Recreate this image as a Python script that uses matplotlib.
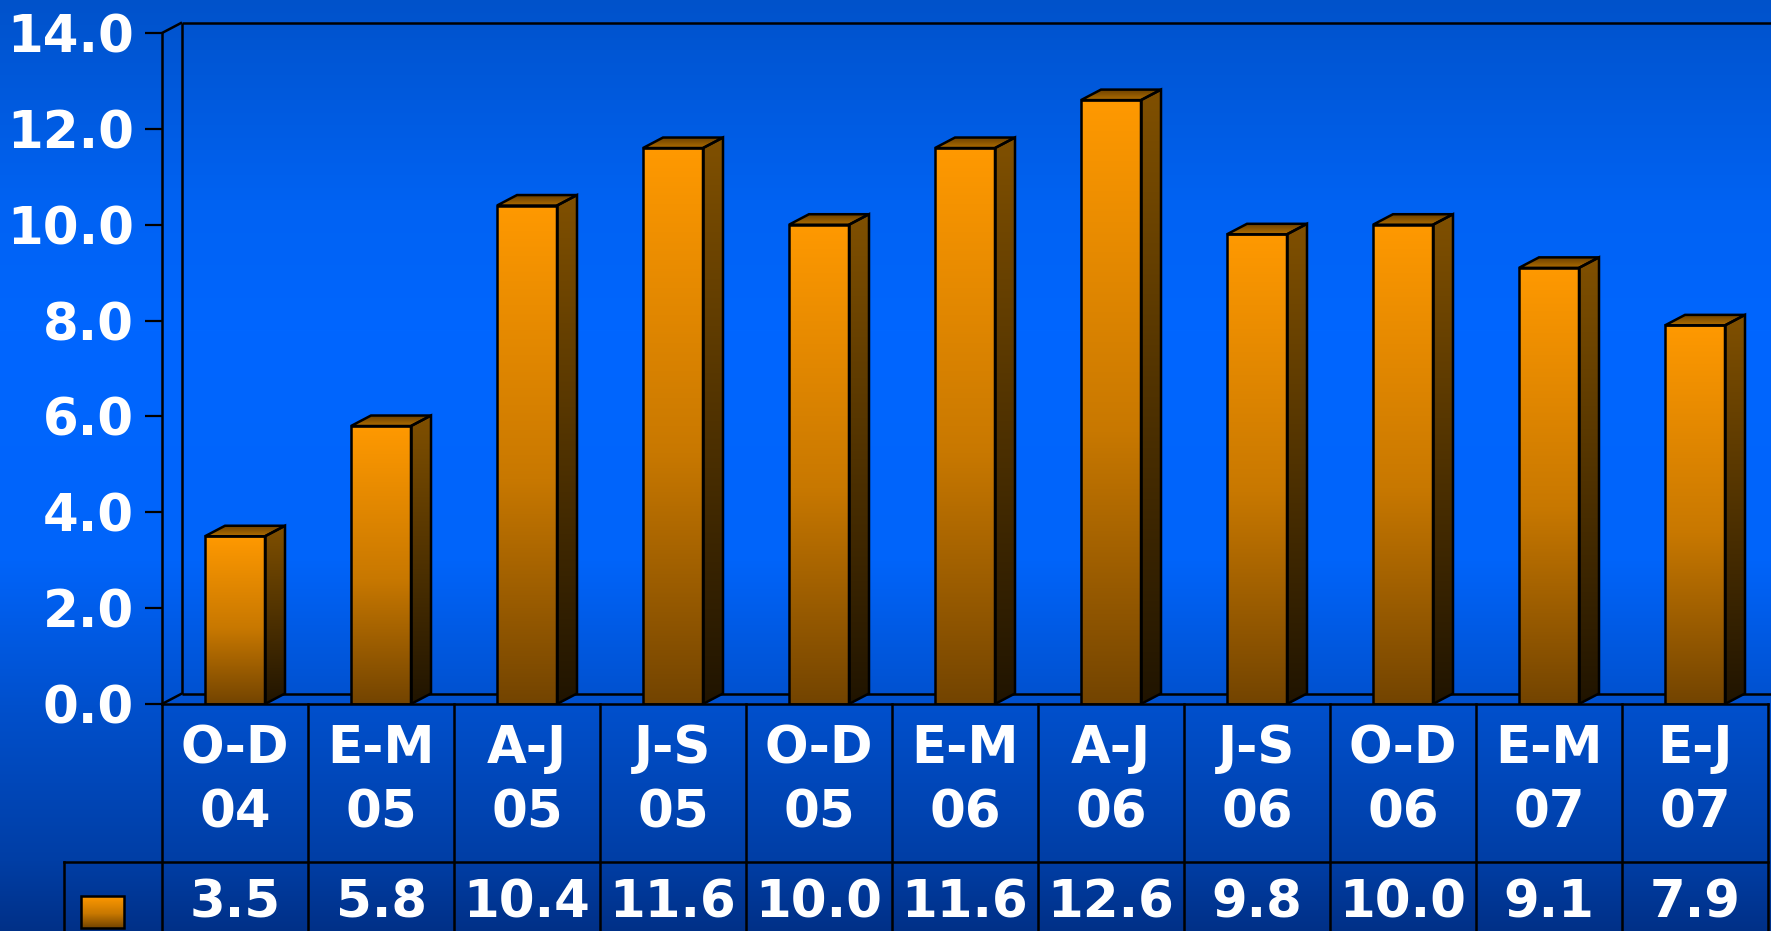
import numpy as np
import matplotlib
matplotlib.use("Agg")
import matplotlib.pyplot as plt
from matplotlib.patches import Polygon, Rectangle
from matplotlib.colors import LinearSegmentedColormap

# ---------------- data ----------------
categories = ["O-D\n04", "E-M\n05", "A-J\n05", "J-S\n05", "O-D\n05", "E-M\n06",
              "A-J\n06", "J-S\n06", "O-D\n06", "E-M\n07", "E-J\n07"]
values = [3.5, 5.8, 10.4, 11.6, 10.0, 11.6, 12.6, 9.8, 10.0, 9.1, 7.9]
y_ticks = [0, 2, 4, 6, 8, 10, 12, 14]
y_max = 14.0

# ---------------- layout (pixels) ----------------
W, H = 1771, 931
AX_L, AX_R, AX_T, AX_B = 162, 1768, 33, 704
ROW_DIV = 862
KEY_LEFT = 64
DEPTH_X, DEPTH_Y = 20, 10.5
BAR_W_PX = 60

FONT = "DejaVu Sans"
FS = 37
LW = 1.8

fig = plt.figure(figsize=(W / 100, H / 100), dpi=100)


def c(r, g, b):
    return (r / 255, g / 255, b / 255)


# background gradient
bg = fig.add_axes([0, 0, 1, 1], zorder=-10)
ypx = np.arange(H)
stop_y = [0, 200, 330, 560, 704, 860, 931]
stop_c = [(0, 82, 202), (0, 98, 242), (0, 102, 255), (0, 100, 250),
          (0, 80, 205), (0, 62, 165), (0, 48, 135)]
arr = np.zeros((H, 1, 3))
for k in range(3):
    arr[:, 0, k] = np.interp(ypx, stop_y, [s[k] for s in stop_c]) / 255
bg.imshow(arr, aspect="auto", extent=[0, 1, 0, 1], origin="upper")
bg.set_axis_off()

n = len(values)
ux = (AX_R - AX_L) / n
uy = (AX_B - AX_T) / y_max
DX = DEPTH_X / ux
DY = DEPTH_Y / uy
BW = BAR_W_PX / ux

ax = fig.add_axes([AX_L / W, (H - AX_B) / H, (AX_R - AX_L) / W, (AX_B - AX_T) / H])
ax.patch.set_alpha(0)
xlim = (-0.5, n - 0.5)
ylim = (0, y_max)

for s in ["top", "right", "bottom"]:
    ax.spines[s].set_visible(False)
ax.spines["left"].set_color("black")
ax.spines["left"].set_linewidth(LW)
ax.set_xticks([])
ax.set_yticks(y_ticks)
ax.set_yticklabels([f"{t:.1f}" for t in y_ticks])
ax.tick_params(axis="y", direction="out", length=12, width=1.6, color="black",
               labelcolor="white", labelsize=FS, pad=8)
for lab in ax.get_yticklabels():
    lab.set_fontfamily(FONT)
    lab.set_fontweight("bold")

# walls / floor outline
kw = dict(color="black", lw=LW, clip_on=False, solid_capstyle="butt", zorder=3)
x0w = xlim[0]
ax.plot([x0w, x0w + DX], [y_max, y_max + DY], **kw)
ax.plot([x0w + DX, x0w + DX], [DY, y_max + DY], **kw)
ax.plot([x0w + DX, xlim[1] + 1], [y_max + DY, y_max + DY], **kw)
ax.plot([x0w, x0w + DX], [0, DY], **kw)
ax.plot([x0w + DX, xlim[1] + 1], [DY, DY], **kw)

front_cmap = LinearSegmentedColormap.from_list(
    "front", [(0, c(115, 68, 0)), (0.45, c(200, 120, 0)), (1, c(255, 153, 0))])
side_cmap = LinearSegmentedColormap.from_list(
    "side", [(0, c(32, 20, 0)), (1, c(128, 80, 0))])
top_cmap = LinearSegmentedColormap.from_list(
    "top", [(0, c(175, 108, 0)), (1, c(105, 64, 0))])
grad = np.linspace(0, 1, 256).reshape(-1, 1)


def grad_fill(patch, cmap, extent, z):
    patch.set_facecolor("none")
    patch.set_edgecolor("none")
    ax.add_patch(patch)
    im = ax.imshow(grad, cmap=cmap, extent=extent, origin="lower",
                   aspect="auto", zorder=z, interpolation="bilinear")
    im.set_clip_path(patch)


for i, v in enumerate(values):
    xa, xb = i - BW / 2, i + BW / 2
    front = Rectangle((xa, 0), BW, v)
    side = Polygon([(xb, 0), (xb + DX, DY), (xb + DX, v + DY), (xb, v)])
    top = Polygon([(xa, v), (xb, v), (xb + DX, v + DY), (xa + DX, v + DY)])
    grad_fill(side, side_cmap, [xb, xb + DX, 0, v + DY], 4)
    grad_fill(top, top_cmap, [xa, xb + DX, v, v + DY], 4)
    grad_fill(front, front_cmap, [xa, xb, 0, v], 4)
    for p in (Rectangle((xa, 0), BW, v),
              Polygon([(xb, 0), (xb + DX, DY), (xb + DX, v + DY), (xb, v)]),
              Polygon([(xa, v), (xb, v), (xb + DX, v + DY), (xa + DX, v + DY)])):
        p.set_facecolor("none")
        p.set_edgecolor("black")
        p.set_linewidth(LW)
        p.set_joinstyle("miter")
        p.set_zorder(5)
        ax.add_patch(p)

ax.set_xlim(*xlim)
ax.set_ylim(*ylim)

# ---------------- data table ----------------
row_h = ROW_DIV - AX_B
ybot = 1 - (H - ROW_DIV) / row_h
tab = fig.add_axes([AX_L / W, 0, (AX_R - AX_L) / W, (H - AX_B) / H])
tab.set_xlim(*xlim)
tab.set_ylim(ybot, 2)
tab.set_axis_off()
tkw = dict(color="black", lw=LW, clip_on=False, solid_capstyle="projecting")
xkey = xlim[0] - (AX_L - KEY_LEFT) / ux
tab.plot([xlim[0], xlim[1]], [2, 2], **tkw)
tab.plot([xkey, xlim[1]], [1, 1], **tkw)
tab.plot([xkey, xkey], [ybot - 0.2, 1], **tkw)
for k in range(n + 1):
    tab.plot([xlim[0] + k, xlim[0] + k], [ybot - 0.2, 2], **tkw)

txt = dict(color="white", fontsize=FS, fontweight="bold", family=FONT,
           ha="center")
y_l1 = 2 - (749 - AX_B) / row_h
y_l2 = 2 - (813 - AX_B) / row_h
y_val = 1 - (918 - ROW_DIV) / row_h
for i, (cat, v) in enumerate(zip(categories, values)):
    l1, l2 = cat.split("\n")
    tab.text(i, y_l1, l1, va="center", **txt)
    tab.text(i, y_l2, l2, va="center", **txt)
    tab.text(i, y_val, f"{v:.1f}", va="baseline", **txt)

# legend key
kx0 = xkey + (81 - KEY_LEFT) / ux
kx1 = xkey + (124 - KEY_LEFT) / ux
ky0 = 1 - (928 - ROW_DIV) / row_h
ky1 = 1 - (896 - ROW_DIV) / row_h
kim = tab.imshow(grad, cmap=front_cmap, extent=[kx0, kx1, ky0, ky1],
                 origin="lower", aspect="auto", zorder=4)
kim.set_clip_on(False)
tab.add_patch(Rectangle((kx0, ky0), kx1 - kx0, ky1 - ky0, facecolor="none",
                        edgecolor="black", lw=LW, clip_on=False, zorder=5))
tab.set_xlim(*xlim)
tab.set_ylim(ybot, 2)

fig.savefig("out.png", dpi=100)
